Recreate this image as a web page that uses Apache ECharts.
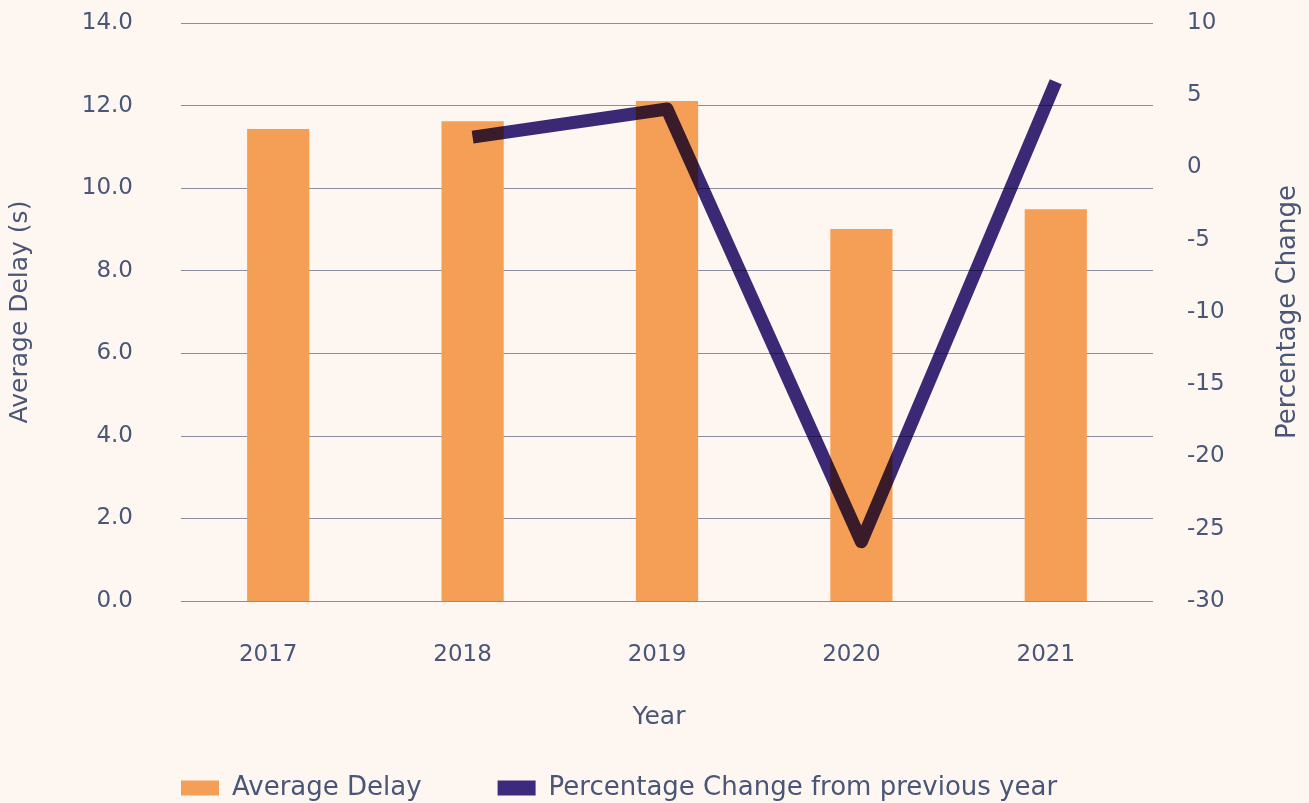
<!DOCTYPE html>
<html>
<head>
<meta charset="utf-8">
<script src="https://cdn.jsdelivr.net/npm/echarts@6/dist/echarts.min.js"></script>
<style>
  html, body { margin: 0; padding: 0; background: #fef6f0; }
  #chart { width: 1309px; height: 803px; }
</style>
</head>
<body>
<div id="chart"></div>
<script>
// data
var years = ['2017', '2018', '2019', '2020', '2021'];
var avgDelay = [11.43, 11.62, 12.11, 9.01, 9.49];
var pctChange = [null, 2.1, 4.05, -25.9, 5.94];

var textColor = '#4a5678';
var font = 'DejaVu Sans';

var chart = echarts.init(document.getElementById('chart'));

var option = {
  backgroundColor: '#fef6f0',
  textStyle: { fontFamily: font, color: textColor },
  grid: { left: 181, right: 154, top: 23, bottom: 202 },
  legend: {
    top: 770,
    left: 176,
    itemWidth: 38,
    itemHeight: 15,
    itemGap: 76,
    textStyle: { fontFamily: font, fontSize: 26, color: textColor, padding: [0, 0, 0, 8] },
    data: [
      { name: 'Average Delay', icon: 'rect' },
      { name: 'Percentage Change from previous year', icon: 'rect' }
    ]
  },
  xAxis: {
    type: 'category',
    data: years,
    name: 'Year',
    nameLocation: 'middle',
    nameGap: 104,
    nameTextStyle: { fontFamily: font, fontSize: 25, color: textColor, padding: [0, 16, 0, 0] },
    axisLine: { show: false },
    axisTick: { show: false },
    axisLabel: { fontSize: 23, color: textColor, margin: 43, padding: [0, 20, 0, 0] }
  },
  yAxis: [{
    type: 'value',
    min: 0,
    max: 14,
    interval: 2,
    name: 'Average Delay (s)',
    nameLocation: 'middle',
    nameGap: 148,
    nameTextStyle: { fontFamily: font, fontSize: 25, color: textColor },
    axisLine: { show: false },
    axisTick: { show: false },
    axisLabel: {
      fontSize: 23, color: textColor, margin: 48,
      formatter: function (v) { return v.toFixed(1); }
    },
    splitLine: { lineStyle: { color: '#8a8ea0', width: 1.2 } }
  }, {
    type: 'value',
    min: -30,
    max: 10,
    interval: 5,
    name: 'Percentage Change',
    nameLocation: 'middle',
    nameGap: 122,
    nameTextStyle: { fontFamily: font, fontSize: 26, color: textColor },
    axisLine: { show: false },
    axisTick: { show: false },
    axisLabel: { fontSize: 23, color: textColor, margin: 34 },
    splitLine: { show: false }
  }],
  series: [{
    name: 'Average Delay',
    type: 'bar',
    data: avgDelay,
    barWidth: '32%',
    itemStyle: { color: '#f59f56' }
  }, {
    name: 'Percentage Change from previous year',
    type: 'line',
    yAxisIndex: 1,
    data: pctChange,
    showSymbol: false,
    symbol: 'none',
    blendMode: 'multiply',
    itemStyle: { color: '#3c2a7c' },
    lineStyle: { color: '#3c2a7c', width: 13, join: 'round', cap: 'butt' }
  }]
};

chart.setOption(option);
</script>
</body>
</html>
